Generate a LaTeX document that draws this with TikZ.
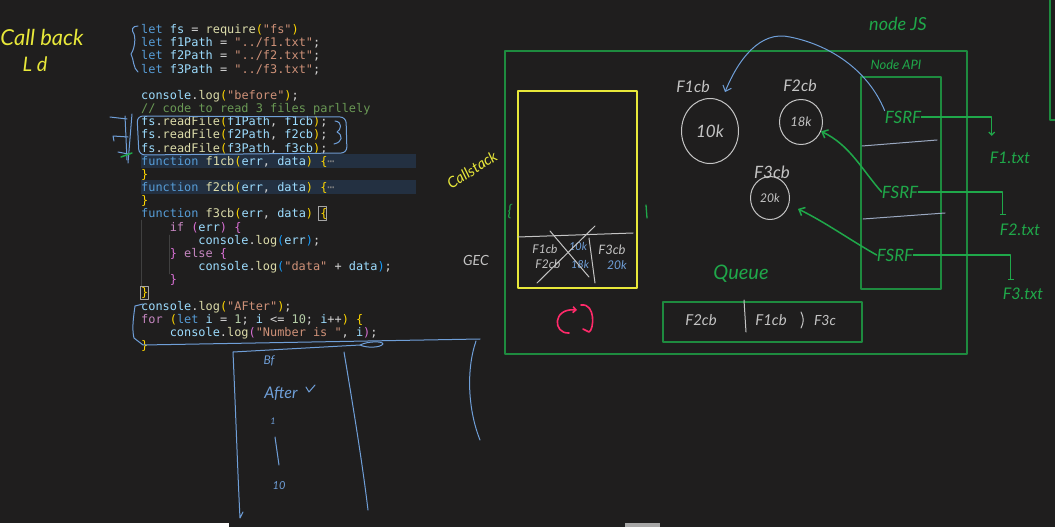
\documentclass[tikz,border=0pt]{standalone}
\usepackage{fontspec}
\setmonofont{DejaVu Sans Mono}
\newfontfamily\handfont{Lato}
\usetikzlibrary{arrows.meta,shapes.geometric,positioning}
\definecolor{BoardBg}{HTML}{1F1E1E}
\definecolor{CodeText}{HTML}{D4D4D4}
\definecolor{CodeKeyword}{HTML}{569CD6}
\definecolor{CodeVar}{HTML}{9CDCFE}
\definecolor{CodeString}{HTML}{CE9178}
\definecolor{CodeFunc}{HTML}{DCDCAA}
\definecolor{CodeBrace}{HTML}{FFD700}
\definecolor{CodePink}{HTML}{DA70D6}
\definecolor{CodeBlueBr}{HTML}{179FFF}
\definecolor{CodeCtrl}{HTML}{C586C0}
\definecolor{CodeNum}{HTML}{B5CEA8}
\definecolor{CodeComment}{HTML}{6A9955}
\definecolor{CodeFold}{HTML}{233041}
\definecolor{CodeGuide}{HTML}{404040}
\definecolor{PenBlue}{HTML}{6F9FD8}
\definecolor{PenSlate}{HTML}{9AA8C0}
\definecolor{PenGray}{HTML}{C4C4C4}
\definecolor{PenGreen}{HTML}{1FA84A}
\definecolor{BoxGreen}{HTML}{1E8B3F}
\definecolor{PenYellow}{HTML}{E8E83A}
\definecolor{PenPink}{HTML}{FF2A6A}
\newcommand\jsKey[1]{\textcolor{CodeKeyword}{#1}}
\newcommand\jsVar[1]{\textcolor{CodeVar}{#1}}
\newcommand\jsStr[1]{\textcolor{CodeString}{#1}}
\newcommand\jsFun[1]{\textcolor{CodeFunc}{#1}}
\newcommand\jsBrA[1]{\textcolor{CodeBrace}{#1}}
\newcommand\jsBrB[1]{\textcolor{CodePink}{#1}}
\newcommand\jsBrC[1]{\textcolor{CodeBlueBr}{#1}}
\newcommand\jsCtl[1]{\textcolor{CodeCtrl}{#1}}
\newcommand\jsNum[1]{\textcolor{CodeNum}{#1}}
\newcommand\jsCom[1]{\textcolor{CodeComment}{#1}}
\newcommand\penfont[1]{\handfont\itshape\fontsize{#1}{#1}\selectfont}
\begin{document}
\begin{tikzpicture}[x=1pt,y=-1pt,line cap=round,line join=round,
  code/.style={anchor=base west,inner sep=0pt,text=CodeText,font=\ttfamily\fontsize{11.9}{13}\selectfont},
  hand/.style={inner sep=0pt},
  pen/.style={line width=1pt},
  cbnode/.style={ellipse,draw=PenGray,pen,inner sep=0pt,text=PenGray}]
  \fill[BoardBg] (0,0) rectangle (1055,527);
  \useasboundingbox (0,0) rectangle (1055,527);
  % editor bar at the bottom
  \fill[black!88] (0,523) rectangle (1055,527);
  \fill[white] (0,523) rectangle (229,527);
  \fill[gray!70] (625,523) rectangle (660,527);

  % code
  \fill[CodeFold] (141,153.5) rectangle (416,167.5);
  \fill[CodeFold] (141,180) rectangle (416,194);
  \draw[CodeGuide] (141.5,220) -- (141.5,287);
  \draw[CodeGuide] (169.5,235) -- (169.5,274);
  \draw[gray!70,line width=.6pt] (318,206.5) rectangle (326.5,220.5);
  \draw[gray!70,line width=.6pt] (140,286) rectangle (148.5,299.5);
  \node[code] (ln1) at (141,33.5) {\jsKey{let} \jsVar{fs} = \jsFun{require}\jsBrA{(}\jsStr{"fs"}\jsBrA{)}};
  \node[code] (ln2) at (141,46.67) {\jsKey{let} \jsVar{f1Path} = \jsStr{"../f1.txt"};};
  \node[code] (ln3) at (141,59.84) {\jsKey{let} \jsVar{f2Path} = \jsStr{"../f2.txt"};};
  \node[code] (ln4) at (141,73.01) {\jsKey{let} \jsVar{f3Path} = \jsStr{"../f3.txt"};};
  \node[code] (ln6) at (141,99.35) {\jsVar{console}.\jsFun{log}\jsBrA{(}\jsStr{"before"}\jsBrA{)};};
  \node[code] (ln7) at (141,112.52) {\jsCom{// code to read 3 files parllely}};
  \node[code] (ln8) at (141,125.69) {\jsVar{fs}.\jsFun{readFile}\jsBrA{(}\jsVar{f1Path}, \jsVar{f1cb}\jsBrA{)};};
  \node[code] (ln9) at (141,138.86) {\jsVar{fs}.\jsFun{readFile}\jsBrA{(}\jsVar{f2Path}, \jsVar{f2cb}\jsBrA{)};};
  \node[code] (ln10) at (141,152.03) {\jsVar{fs}.\jsFun{readFile}\jsBrA{(}\jsVar{f3Path}, \jsVar{f3cb}\jsBrA{)};};
  \node[code] (ln11) at (141,165.2) {\jsKey{function} \jsFun{f1cb}\jsBrA{(}\jsVar{err}, \jsVar{data}\jsBrA{)} \jsBrA{\{}\textcolor{gray}{⋯}};
  \node[code] (ln12) at (141,178.37) {\jsBrA{\}}};
  \node[code] (ln13) at (141,191.54) {\jsKey{function} \jsFun{f2cb}\jsBrA{(}\jsVar{err}, \jsVar{data}\jsBrA{)} \jsBrA{\{}\textcolor{gray}{⋯}};
  \node[code] (ln14) at (141,204.71) {\jsBrA{\}}};
  \node[code] (ln15) at (141,217.88) {\jsKey{function} \jsFun{f3cb}\jsBrA{(}\jsVar{err}, \jsVar{data}\jsBrA{)} \jsBrA{\{}};
  \node[code] (ln16) at (169.6,231.05) {\jsCtl{if} \jsBrB{(}\jsVar{err}\jsBrB{)} \jsBrB{\{}};
  \node[code] (ln17) at (198.2,244.22) {\jsVar{console}.\jsFun{log}\jsBrC{(}\jsVar{err}\jsBrC{)};};
  \node[code] (ln18) at (169.6,257.39) {\jsBrB{\}} \jsCtl{else} \jsBrB{\{}};
  \node[code] (ln19) at (198.2,270.56) {\jsVar{console}.\jsFun{log}\jsBrC{(}\jsStr{"data"} + \jsVar{data}\jsBrC{)};};
  \node[code] (ln20) at (169.6,283.73) {\jsBrB{\}}};
  \node[code] (ln21) at (141,296.9) {\jsBrA{\}}};
  \node[code] (ln22) at (141,310.07) {\jsVar{console}.\jsFun{log}\jsBrA{(}\jsStr{"AFter"}\jsBrA{)};};
  \node[code] (ln23) at (141,323.24) {\jsCtl{for} \jsBrA{(}\jsKey{let} \jsVar{i} = \jsNum{1}; \jsVar{i} <= \jsNum{10}; \jsVar{i}++\jsBrA{)} \jsBrA{\{}};
  \node[code] (ln24) at (169.6,336.41) {\jsVar{console}.\jsFun{log}\jsBrB{(}\jsStr{"Number is "}, \jsVar{i}\jsBrB{)};};
  \node[code] (ln25) at (141,349.58) {\jsBrA{\}}};

  % pen marks on the code
  \node[hand,text=PenYellow,font=\penfont{22}] (title) at (42,37) {Call back};
  \node[hand,text=PenYellow,font=\penfont{20}] (subtitle) at (35,64) {L d};
  \draw[pen,PenBlue] (138,26) .. controls (132,26) and (131,30) .. (134,34) .. controls (136,40) and (134,50) .. (131,54) .. controls (134,60) and (133,68) .. (138,72);
  \draw[pen,PenBlue,rounded corners=6pt] (137,116) -- (346,117) -- (347,153) -- (139,155) -- cycle;
  \draw[pen,PenBlue] (335,121) .. controls (343,122) and (341,130) .. (337,132) .. controls (343,135) and (343,142) .. (334,144);
  \draw[pen,PenBlue] (132,114) -- (128,163);
  \draw[pen,PenBlue] (125,116) -- (127,160);
  \draw[pen,PenBlue] (127,119) -- (110,117);
  \draw[pen,PenBlue] (128,137) -- (113,136) -- (114,141);
  \draw[pen,PenBlue] (128,154) -- (118,152);
  \draw[pen,PenGreen,line width=1.5pt] (121,157) -- (132,153);
  \draw[pen,PenBlue] (143,304) -- (135,306) .. controls (133,320) and (132,330) .. (134,338) -- (143,345) -- (480,339);
  \draw[pen,PenBlue] (360,345) .. controls (368,341) and (383,341) .. (383,344) .. controls (380,348) and (366,348) .. (360,345);

  % output box
  \draw[pen,PenBlue] (233,352) -- (360,345);
  \draw[pen,PenBlue] (233,352) .. controls (236,420) and (238,480) .. (240,518) -- (243,512);
  \draw[pen,PenBlue] (344,352) .. controls (352,400) and (362,460) .. (368,510);
  \draw[pen,PenBlue] (476,341) .. controls (466,370) and (468,410) .. (480,440);
  \node[hand,text=PenBlue,font=\penfont{12}] (outbf) at (269,361) {Bf};
  \node[hand,text=PenBlue,font=\penfont{16}] (outafter) at (281,394) {After};
  \draw[pen,PenBlue] (306,387) -- (309,392) -- (315,385);
  \node[hand,text=PenBlue,font=\penfont{9}] (outone) at (273,421) {1};
  \draw[pen,PenBlue] (275,437) -- (279,465);
  \node[hand,text=PenBlue,font=\penfont{11}] (outten) at (279,486) {10};

  % node js
  \draw[BoxGreen,line width=1.3pt] (505,51) rectangle (967,354);
  \draw[BoxGreen,line width=1.3pt] (1050,0) -- (1050,120) -- (1056,120);
  \node[hand,text=PenGreen,font=\penfont{18}] (nodejs) at (898,24) {node JS};
  \node[hand,text=PenGreen,font=\penfont{13}] (nodeapi) at (896,65) {Node API};
  \draw[BoxGreen,line width=1.3pt] (861,77) rectangle (941,289);
  \draw[pen,PenSlate] (862,146) -- (937,140);
  \draw[pen,PenSlate] (863,219) -- (945,213);
  \node[hand,text=PenGreen,font=\penfont{17}] (fsrf1) at (903,117) {FSRF};
  \node[hand,text=PenGreen,font=\penfont{17}] (fsrf2) at (900,192) {FSRF};
  \node[hand,text=PenGreen,font=\penfont{17}] (fsrf3) at (895,255) {FSRF};
  \node[hand,text=PenGreen,font=\penfont{16}] (f1txt) at (1010,158) {F1.txt};
  \node[hand,text=PenGreen,font=\penfont{16}] (f2txt) at (1020,230) {F2.txt};
  \node[hand,text=PenGreen,font=\penfont{16}] (f3txt) at (1023,294) {F3.txt};
  \draw[pen,PenGreen,line width=1.3pt,-{Straight Barb[length=3pt,width=6pt]}] (fsrf1.east) -| ([xshift=2pt,yshift=16pt]f1txt.north west);
  \draw[pen,PenGreen,line width=1.3pt,-{Bar[width=6pt]}] (fsrf2.east) -| ([xshift=3pt,yshift=9pt]f2txt.north west);
  \draw[pen,PenGreen,line width=1.3pt,-{Bar[width=6pt]}] (fsrf3.east) -| ([xshift=8pt,yshift=8pt]f3txt.north west);

  % call stack
  \draw[PenYellow,line width=1.2pt] (518,91) rectangle (637,288);
  \node[hand,text=PenYellow,font=\penfont{15},rotate=33] (callstack) at (472,170) {Callstack};
  \node[hand,text=PenGray,font=\penfont{14}] (gec) at (476,260) {GEC};
  \node[hand,text=PenGreen,font=\penfont{16}] (gecbrace) at (510,212) {\{};
  \draw[pen,PenGreen,line width=1.3pt] (646,205) -- (647,218);
  \draw[pen,PenGray] (518,237) -- (633,233);
  \draw[pen,PenGray] (589,238) -- (595,283);
  \node[hand,text=PenGray,font=\penfont{12}] (sf1) at (545,249) {F1cb};
  \node[hand,text=PenBlue,font=\penfont{11}] (sk1) at (578,246) {10k};
  \node[hand,text=PenGray,font=\penfont{12}] (sf2) at (548,264) {F2cb};
  \node[hand,text=PenBlue,font=\penfont{11}] (sk2) at (580,264) {18k};
  \node[hand,text=PenGray,font=\penfont{13}] (sf3) at (612,250) {F3cb};
  \node[hand,text=PenBlue,font=\penfont{12}] (sk3) at (617,265) {20k};
  \draw[pen,PenGray] (550,231) -- (589,277);
  \draw[pen,PenGray] (595,226) -- (537,283);

  % callbacks waiting
  \node[cbnode,minimum width=57pt,minimum height=65pt,font=\penfont{17}] (c1) at (710,131) {10k};
  \node[cbnode,minimum width=43pt,minimum height=45pt,font=\penfont{13}] (c2) at (801,122) {18k};
  \node[cbnode,minimum width=39pt,minimum height=43pt,font=\penfont{12}] (c3) at (770,198) {20k};
  \node[hand,text=PenGray,font=\penfont{16}] (c1lbl) at (693,87) {F1cb};
  \node[hand,text=PenGray,font=\penfont{16}] (c2lbl) at (800,86) {F2cb};
  \node[hand,text=PenGray,font=\penfont{17}] (c3lbl) at (772,172) {F3cb};
  \coordinate (tipA) at (725,92);
  \draw[pen,PenBlue,-{Straight Barb[length=5pt,width=9pt]}] (fsrf1.north west) .. controls (868,70) and (830,45) .. (790,37) .. controls (760,30) and (738,60) .. (tipA);
  \draw[pen,PenGreen,line width=1.5pt,-{Straight Barb[length=5pt,width=9pt]}] (fsrf2.west) .. controls (862,170) and (850,145) .. (c2.-25);
  \draw[pen,PenGreen,line width=1.5pt,-{Straight Barb[length=5pt,width=9pt]}] (fsrf3.west) .. controls (850,240) and (825,222) .. ([xshift=9pt,yshift=-4pt]c3.-20);

  % queue
  \node[hand,text=PenGreen,font=\penfont{20}] (queue) at (741,274) {Queue};
  \draw[BoxGreen,line width=1.3pt] (663,302) rectangle (862,342);
  \node[hand,text=PenGray,font=\penfont{15}] (q1) at (701,320) {F2cb};
  \node[hand,text=PenGray,font=\penfont{15}] (q2) at (771,320) {F1cb};
  \node[hand,text=PenGray,font=\penfont{14}] (q3) at (825,320) {F3c};
  \draw[pen,PenGray] (744,300) -- (746,332);
  \draw[pen,PenGray] (801,312) .. controls (804,318) and (804,322) .. (801,328);

  % event loop
  \draw[PenPink,line width=1.6pt,-{Straight Barb[length=3pt,width=6pt]}] (569,333) .. controls (553,334) and (552,308) .. (577,310);
  \draw[PenPink,line width=1.6pt] (581,305) .. controls (596,303) and (594,330) .. (589,332) -- (583,329);
\end{tikzpicture}
\end{document}
